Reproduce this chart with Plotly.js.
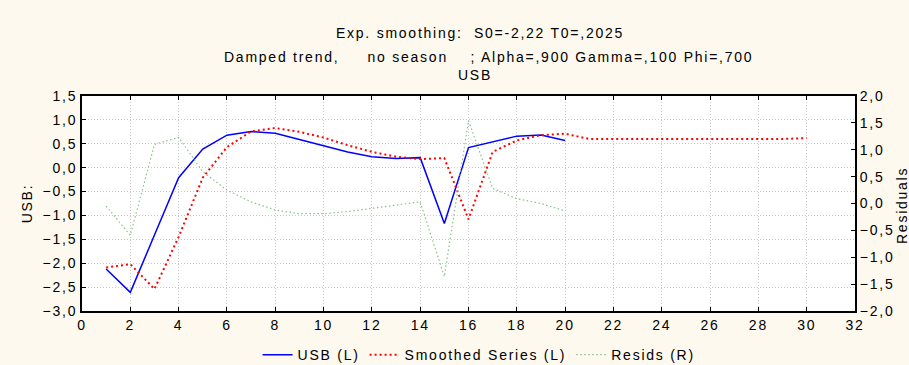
<!DOCTYPE html>
<html>
<head>
<meta charset="utf-8">
<script src="https://cdn.plot.ly/plotly-3.0.1.min.js"></script>
<style>html,body{margin:0;padding:0;background:#FDF9EE;}#chart{width:909px;height:365px;}
svg text{letter-spacing:1.75px;}</style>
</head>
<body>
<div id="chart"></div>
<script>
const xObs = [1,2,3,4,5,6,7,8,9,10,11,12,13,14,15,16,17,18,19,20];
const usb = [-2.12,-2.61,-1.41,-0.21,0.39,0.68,0.755,0.72,0.59,0.46,0.33,0.23,0.19,0.21,-1.17,0.42,0.54,0.66,0.685,0.57];
const xSmooth = [1,2,3,4,5,6,7,8,9,10,11,12,13,14,15,16,17,18,19,20,21,22,23,24,25,26,27,28,29,30];
const smoothed = [-2.09,-2.02,-2.54,-1.45,-0.21,0.43,0.76,0.83,0.75,0.63,0.47,0.33,0.23,0.18,0.2,-1.08,0.33,0.57,0.68,0.71,0.6,0.6,0.6,0.6,0.6,0.6,0.6,0.6,0.6,0.62];
const resids = [-0.05,-0.59,1.10,1.23,0.59,0.25,0.03,-0.12,-0.19,-0.19,-0.15,-0.09,-0.03,0.03,-1.36,1.54,0.28,0.09,0.0,-0.14];
const titleLines = ["Exp. smoothing:  S0=-2,22 T0=,2025", "Damped trend,     no season    ; Alpha=,900 Gamma=,100 Phi=,700", "USB"];

const font = {family: "Liberation Sans, Arial, sans-serif", size: 14, color: "#000"};
const traces = [
  {x: xObs, y: usb, name: "USB (L)", type: "scatter", mode: "lines", line: {color: "#0000FF", width: 1.5}, yaxis: "y"},
  {x: xSmooth, y: smoothed, name: "Smoothed Series (L)", type: "scatter", mode: "lines", line: {color: "#FF0000", width: 2, dash: "2px,3px"}, yaxis: "y"},
  {x: xObs, y: resids, name: "Resids (R)", type: "scatter", mode: "lines", line: {color: "#86C486", width: 1.2, dash: "1.5px,2.5px"}, yaxis: "y2"}
];
const layout = {
  width: 909, height: 365,
  paper_bgcolor: "#FDF9EE", plot_bgcolor: "#FFFFFF",
  separators: ",.",
  font: font,
  margin: {l: 82, r: 54, t: 96, b: 54},
  showlegend: true,
  legend: {orientation: "h", x: 0.527, xanchor: "center", xref: "container", y: 0.071, yanchor: "top", yref: "container",
           font: font, bgcolor: "rgba(0,0,0,0)", itemwidth: 30, tracegroupgap: 0},
  xaxis: {range: [0, 32], dtick: 2, tick0: 0, showline: true, linecolor: "#000", linewidth: 2, mirror: "ticks", automargin: false,
          ticks: "inside", ticklen: 4, tickcolor: "#000", showgrid: true, gridcolor: "#C8C8C8", griddash: "1px,2px", zeroline: false, tickfont: font},
  yaxis: {range: [-3, 1.5], dtick: 0.5, tick0: 0, tickformat: ".1f", showline: true, linecolor: "#000", linewidth: 2, automargin: false,
          ticks: "inside", ticklen: 4, tickcolor: "#000", showgrid: true, gridcolor: "#C8C8C8", griddash: "1px,2px", zeroline: false, tickfont: font,
          title: {text: "USB:", font: font, standoff: 7}},
  yaxis2: {range: [-2, 2], dtick: 0.5, tick0: 0, tickformat: ".1f", overlaying: "y", side: "right", showline: true, linecolor: "#000", linewidth: 2, automargin: false,
          ticks: "inside", ticklen: 4, tickcolor: "#000", showgrid: false, zeroline: false, tickfont: font},
  annotations: [
    {text: titleLines[0], xref: "paper", yref: "paper", showarrow: false, font: font},
    {text: titleLines[1], xref: "paper", yref: "paper", showarrow: false, font: font},
    {text: titleLines[2], xref: "paper", yref: "paper", showarrow: false, font: font},
    {text: "Residuals", xref: "paper", yref: "paper", showarrow: false, textangle: -90, font: font}
  ]
};
const plotH = 365 - 96 - 54, plotW = 909 - 82 - 54;
function py(pix){ return (365 - 54 - pix) / plotH; }
function px(pix){ return (pix - 82) / plotW; }
const ann = layout.annotations;
ann[0].x = px(480); ann[0].y = py(33); ann[0].yanchor = "middle"; ann[0].xanchor = "center";
ann[1].x = px(488); ann[1].y = py(57); ann[1].yanchor = "middle"; ann[1].xanchor = "center";
ann[2].x = px(475); ann[2].y = py(75); ann[2].yanchor = "middle"; ann[2].xanchor = "center";
ann[3].x = px(902); ann[3].y = py(205); ann[3].yanchor = "middle"; ann[3].xanchor = "center";
Plotly.newPlot("chart", traces, layout, {displayModeBar: false, staticPlot: true});
</script>
</body>
</html>
